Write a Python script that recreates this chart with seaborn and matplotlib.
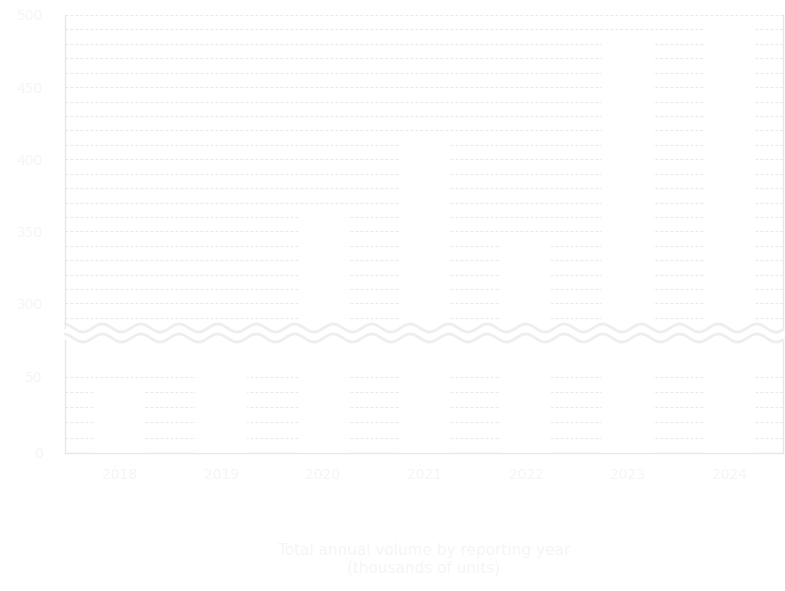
import numpy as np
import pandas as pd
import matplotlib
matplotlib.use("Agg")
import matplotlib.pyplot as plt
from matplotlib.lines import Line2D
import seaborn as sns

# ---- data ----
years = ["2018", "2019", "2020", "2021", "2022", "2023", "2024"]
values = [44, 64, 366, 416, 346, 486, 495]
top_ticks = [300, 350, 400, 450, 500]
bottom_ticks = [0, 50]
top_limits = (283, 500)
bottom_limits = (0, 74)
x_title = "Total annual volume by reporting year\n(thousands of units)"

df = pd.DataFrame({"year": years, "value": values})

sns.set_theme(style="white")
plt.rcParams["font.family"] = ["DejaVu Sans"]

W, H = 785, 591
fig = plt.figure(figsize=(W / 100, H / 100), dpi=100)
fig.patch.set_facecolor("white")

L, R = 65, 783
ax_top = fig.add_axes([L / W, 1 - 328 / H, (R - L) / W, (328 - 15) / H])
ax_bot = fig.add_axes([L / W, 1 - 453 / H, (R - L) / W, (453 - 340) / H])

text_col = "#f5f5f5"
grid_col = "#e9e9e9"
spine_col = "#e8e8e8"

for ax, lims, majors in [(ax_top, top_limits, top_ticks), (ax_bot, bottom_limits, bottom_ticks)]:
    ax.set_facecolor("white")
    sns.barplot(data=df, x="year", y="value", ax=ax, color="white",
                width=0.5, saturation=1, edgecolor="none", zorder=3)
    ax.set_xlim(-0.54, 6.53)
    ax.set_ylim(*lims)
    ax.set_yticks(majors)
    lo = int(np.ceil(lims[0] / 10.0) * 10)
    hi = 50 if ax is ax_bot else lims[1]
    ax.set_yticks([v for v in range(lo, hi + 1, 10) if v not in majors], minor=True)
    ax.grid(True, which="both", axis="y", color=grid_col, linestyle=(0, (2.5, 2)), linewidth=0.8)
    ax.set_axisbelow(True)
    ax.tick_params(axis="y", which="both", length=0, colors=text_col, labelsize=10, pad=16)
    ax.tick_params(axis="x", which="both", length=0, colors=text_col, labelsize=10, pad=11)
    ax.set_xlabel("")
    ax.set_ylabel("")
    for s in ax.spines.values():
        s.set_color(spine_col)
        s.set_linewidth(1.0)
        s.set_zorder(2)

ax_top.spines["bottom"].set_visible(False)
ax_top.spines["top"].set_visible(False)
ax_top.tick_params(axis="x", labelbottom=False)
ax_bot.spines["top"].set_visible(False)
ax_bot.set_xlabel(x_title, color=text_col, fontsize=11, labelpad=44)

# wavy break marks
xs = np.linspace(L, R, 800)
for yc in (328, 338):
    ys = yc + 4.0 * np.cos(2 * np.pi * (xs - 83) / 38.5)
    fig.add_artist(Line2D(xs / W, 1 - ys / H, transform=fig.transFigure,
                          color="#eeeeee", linewidth=2.0, solid_capstyle="round"))

fig.savefig("out.png", dpi=100, facecolor="white")
